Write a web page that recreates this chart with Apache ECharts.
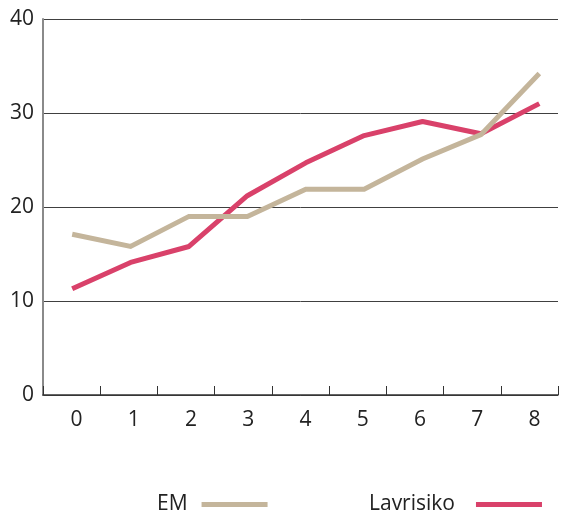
<!DOCTYPE html>
<html><head><meta charset="utf-8">
<script src="https://cdn.jsdelivr.net/npm/echarts@6/dist/echarts.min.js"></script>
<style>html,body{margin:0;padding:0;background:#fff}#c{width:563px;height:511px}</style>
</head><body><div id="c"></div>
<script>
const categories = ['0','1','2','3','4','5','6','7','8'];
const emValues = [17.1, 15.8, 19.0, 19.0, 21.9, 21.9, 25.1, 27.7, 34.2];
const lavrisikoValues = [11.3, 14.1, 15.8, 21.2, 24.7, 27.6, 29.1, 27.8, 31.0];
const yTicks = { min: 0, max: 40, interval: 10 };

const toPairs = vals => vals.map((v, i) => [i, v]);
const font = '"Open Sans", "Noto Sans", sans-serif';

const legendBase = {
  top: 489, align: 'right', orient: 'horizontal',
  itemWidth: 66, itemHeight: 5, icon: 'rect'
};

const chart = echarts.init(document.getElementById('c'), null, { renderer: 'canvas' });
chart.setOption({
  animation: false,
  grid: { left: 43, right: 5, top: 19, bottom: 116, containLabel: false },
  legend: [
    Object.assign({}, legendBase, { left: 152, data: ['EM'],
      textStyle: { fontFamily: font, fontSize: 21, color: '#222', padding: [0, 9, 0, 0] } }),
    Object.assign({}, legendBase, { left: 364, data: ['Lavrisiko'],
      textStyle: { fontFamily: font, fontSize: 21, color: '#222', padding: [0, 16, 0, 0] } })
  ],
  xAxis: [
    {
      type: 'category', data: categories, boundaryGap: true,
      axisLine: { lineStyle: { color: '#333', width: 1.5 } },
      axisTick: { show: true, inside: true, length: 9, lineStyle: { color: '#333' } },
      axisLabel: { fontFamily: font, fontSize: 21, color: '#222', margin: 15, padding: [0, 0, 0, 10] },
      splitLine: { show: false }
    },
    {
      type: 'value', min: -0.5, max: 8.32, show: false
    }
  ],
  yAxis: {
    type: 'value', min: yTicks.min, max: yTicks.max, interval: yTicks.interval,
    axisLine: { show: true, onZero: false, lineStyle: { color: '#8a8a8a', width: 2 } },
    axisTick: { show: false },
    axisLabel: { fontFamily: font, fontSize: 21, color: '#222', margin: 9 },
    splitLine: { lineStyle: { color: '#404040', width: 1 } }
  },
  series: [
    {
      name: 'EM', type: 'line', xAxisIndex: 1, data: toPairs(emValues),
      symbol: 'none', lineStyle: { color: '#c4b59b', width: 5, join: 'miter' },
      itemStyle: { color: '#c4b59b' }, z: 3
    },
    {
      name: 'Lavrisiko', type: 'line', xAxisIndex: 1, data: toPairs(lavrisikoValues),
      symbol: 'none', lineStyle: { color: '#d9416a', width: 5 },
      itemStyle: { color: '#d9416a' }, z: 2
    }
  ]
});
</script>
</body></html>
